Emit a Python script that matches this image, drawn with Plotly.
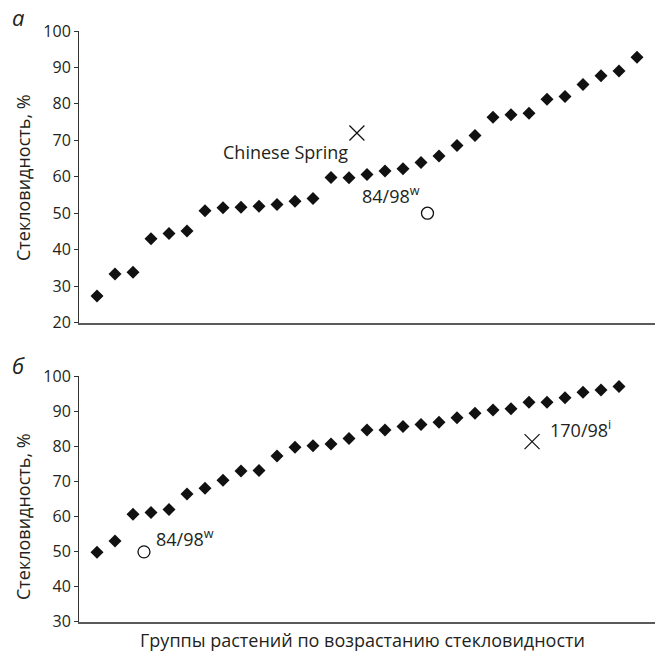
import plotly.graph_objects as go

# ---- data ----
a_vals = [27.3, 33.3, 33.8, 43.0, 44.4, 45.1, 50.7, 51.5, 51.6, 51.9, 52.4, 53.3, 54.0, 59.8,
          59.7, 60.6, 61.6, 62.2, 63.9, 65.7, 68.6, 71.3, 76.3, 77.0, 77.4, 81.3, 82.0, 85.3,
          87.7, 89.0, 92.8]
b_vals = [49.8, 53.0, 60.6, 61.1, 62.0, 66.4, 68.0, 70.3, 72.9, 73.1, 77.2, 79.7, 80.1, 80.6,
          82.2, 84.6, 84.6, 85.6, 86.2, 86.8, 88.1, 89.4, 90.3, 90.7, 92.5, 92.5, 93.8, 95.4,
          96.0, 97.0]
a_x = list(range(1, len(a_vals) + 1))
b_x = list(range(1, len(b_vals) + 1))

# reference genotypes
a_cross_x, a_cross_y = [15.44], [72.0]      # Chinese Spring
a_circ_x, a_circ_y = [19.36], [50.0]        # 84/98w
b_circ_x, b_circ_y = [3.61], [49.9]         # 84/98w
b_cross_x, b_cross_y = [25.17], [81.3]      # 170/98i

a_ticks = [20, 30, 40, 50, 60, 70, 80, 90, 100]
b_ticks = [30, 40, 50, 60, 70, 80, 90, 100]

FONT = "Open Sans"
TXT = "#231f20"
AX = "#5a5a5a"
FS_TICK = 16
FS = 18

fig = go.Figure()
dia = dict(symbol="diamond", size=10, color="#111111")
fig.add_trace(go.Scatter(x=a_x, y=a_vals, mode="markers", marker=dia, xaxis="x", yaxis="y"))
fig.add_trace(go.Scatter(x=b_x, y=b_vals, mode="markers", marker=dia, xaxis="x2", yaxis="y2"))
cross = dict(symbol="x-thin-open", size=15, color="#111111", line=dict(color="#111111", width=1.2))
circ = dict(symbol="circle-open", size=12, color="#111111", line=dict(color="#111111", width=1.3))
fig.add_trace(go.Scatter(x=a_cross_x, y=a_cross_y, mode="markers", marker=cross, xaxis="x", yaxis="y"))
fig.add_trace(go.Scatter(x=a_circ_x, y=a_circ_y, mode="markers", marker=circ, xaxis="x", yaxis="y"))
fig.add_trace(go.Scatter(x=b_circ_x, y=b_circ_y, mode="markers", marker=circ, xaxis="x2", yaxis="y2"))
fig.add_trace(go.Scatter(x=b_cross_x, y=b_cross_y, mode="markers", marker=cross, xaxis="x2", yaxis="y2"))

xdom = [79 / 661, 655 / 661]
xcommon = dict(range=[0, 32], showgrid=False, zeroline=False, showticklabels=False, ticks="",
               showline=True, linecolor=AX, linewidth=1.5, domain=xdom, fixedrange=True,
               automargin=False)
ycommon = dict(showgrid=False, zeroline=False, showline=True, linecolor="#333333", linewidth=1,
               ticks="outside", ticklen=4, tickcolor="#333333", tickwidth=1, automargin=False,
               tickfont=dict(family=FONT, size=FS_TICK, color=TXT))

fig.update_layout(
    width=661, height=657, margin=dict(l=0, r=0, t=0, b=0, autoexpand=False),
    paper_bgcolor="white", plot_bgcolor="white", showlegend=False,
    font=dict(family=FONT, size=FS, color=TXT),
    xaxis=dict(**xcommon, anchor="y"),
    xaxis2=dict(**xcommon, anchor="y2"),
    yaxis=dict(**ycommon, range=[20, 100], tickvals=a_ticks, anchor="x",
               domain=[(657 - 322.5) / 657, (657 - 31) / 657]),
    yaxis2=dict(**ycommon, range=[30, 100], tickvals=b_ticks, anchor="x2",
                domain=[(657 - 621.7) / 657, (657 - 376) / 657]),
)

ann = [
    dict(text="Chinese Spring", x=15.06, y=66.9, xref="x", yref="y", xanchor="right", yanchor="middle"),
    dict(text="84/98<sup>w</sup>", x=15.62, y=55.0, xref="x", yref="y", xanchor="left", yanchor="middle"),
    dict(text="84/98<sup>w</sup>", x=4.18, y=53.8, xref="x2", yref="y2", xanchor="left", yanchor="middle"),
    dict(text="170/98<sup>i</sup>", x=26.04, y=84.9, xref="x2", yref="y2", xanchor="left", yanchor="middle"),
    dict(text="<i>а</i>", x=18 / 661, y=1 - 17 / 657, xref="paper", yref="paper", xanchor="center",
         yanchor="middle", font=dict(size=22)),
    dict(text="<i>б</i>", x=18 / 661, y=1 - 365 / 657, xref="paper", yref="paper", xanchor="center",
         yanchor="middle", font=dict(size=22)),
    dict(text="Стекловидность, %", x=23 / 661, y=1 - 178 / 657, xref="paper", yref="paper",
         textangle=-90, xanchor="center", yanchor="middle"),
    dict(text="Стекловидность, %", x=23 / 661, y=1 - 517 / 657, xref="paper", yref="paper",
         textangle=-90, xanchor="center", yanchor="middle"),
    dict(text="Группы растений по возрастанию стекловидности", x=362 / 661, y=1 - 640 / 657,
         xref="paper", yref="paper", xanchor="center", yanchor="middle"),
]
for a in ann:
    a["showarrow"] = False
fig.update_layout(annotations=ann)

fig.write_html("out.html", config={"displayModeBar": False},
               post_script="document.body.style.margin='0px';document.body.style.overflow='hidden';")
